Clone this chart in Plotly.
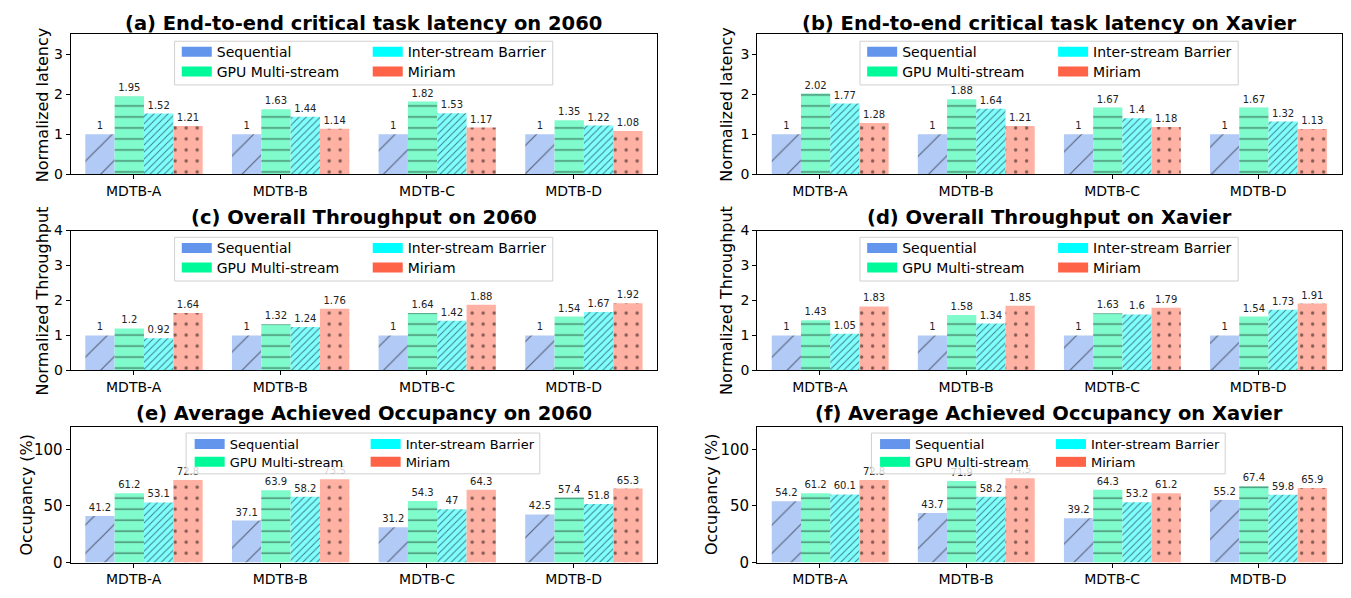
import plotly.graph_objects as go

# The page is 1351x598 and the browser body keeps its default 8px margin,
# so the figure is 16px smaller and reference pixel positions are converted
# with an 8px offset.
PAGE_W, PAGE_H = 1351, 598
BODY_MARGIN = 8
W, H = PAGE_W - 2 * BODY_MARGIN, PAGE_H - 2 * BODY_MARGIN

categories = ["MDTB-A", "MDTB-B", "MDTB-C", "MDTB-D"]
series_names = ["Sequential", "GPU Multi-stream", "Inter-stream Barrier", "Miriam"]

# (a) End-to-end critical task latency on 2060
lat_2060_seq = [1, 1, 1, 1]
lat_2060_gpu = [1.95, 1.63, 1.82, 1.35]
lat_2060_bar = [1.52, 1.44, 1.53, 1.22]
lat_2060_mir = [1.21, 1.14, 1.17, 1.08]
# (b) End-to-end critical task latency on Xavier
lat_xav_seq = [1, 1, 1, 1]
lat_xav_gpu = [2.02, 1.88, 1.67, 1.67]
lat_xav_bar = [1.77, 1.64, 1.4, 1.32]
lat_xav_mir = [1.28, 1.21, 1.18, 1.13]
# (c) Overall Throughput on 2060
thr_2060_seq = [1, 1, 1, 1]
thr_2060_gpu = [1.2, 1.32, 1.64, 1.54]
thr_2060_bar = [0.92, 1.24, 1.42, 1.67]
thr_2060_mir = [1.64, 1.76, 1.88, 1.92]
# (d) Overall Throughput on Xavier
thr_xav_seq = [1, 1, 1, 1]
thr_xav_gpu = [1.43, 1.58, 1.63, 1.54]
thr_xav_bar = [1.05, 1.34, 1.6, 1.73]
thr_xav_mir = [1.83, 1.85, 1.79, 1.91]
# (e) Average Achieved Occupancy on 2060
occ_2060_seq = [41.2, 37.1, 31.2, 42.5]
occ_2060_gpu = [61.2, 63.9, 54.3, 57.4]
occ_2060_bar = [53.1, 58.2, 47, 51.8]
occ_2060_mir = [72.8, 73.5, 64.3, 65.3]
# (f) Average Achieved Occupancy on Xavier
occ_xav_seq = [54.2, 43.7, 39.2, 55.2]
occ_xav_gpu = [61.2, 71.9, 64.3, 67.4]
occ_xav_bar = [60.1, 58.2, 53.2, 59.8]
occ_xav_mir = [72.8, 74.5, 61.2, 65.9]

panel_titles = [
    "(a) End-to-end critical task latency on 2060",
    "(b) End-to-end critical task latency on Xavier",
    "(c) Overall Throughput on 2060",
    "(d) Overall Throughput on Xavier",
    "(e) Average Achieved Occupancy on 2060",
    "(f) Average Achieved Occupancy on Xavier",
]
panel_ylabels = ["Normalized latency", "Normalized latency",
                 "Normalized Throughput", "Normalized Throughput",
                 "Occupancy (%)", "Occupancy (%)"]
panel_data = [
    [lat_2060_seq, lat_2060_gpu, lat_2060_bar, lat_2060_mir],
    [lat_xav_seq, lat_xav_gpu, lat_xav_bar, lat_xav_mir],
    [thr_2060_seq, thr_2060_gpu, thr_2060_bar, thr_2060_mir],
    [thr_xav_seq, thr_xav_gpu, thr_xav_bar, thr_xav_mir],
    [occ_2060_seq, occ_2060_gpu, occ_2060_bar, occ_2060_mir],
    [occ_xav_seq, occ_xav_gpu, occ_xav_bar, occ_xav_mir],
]
panel_ymax = [3.5, 3.5, 4, 4, 120, 120]
panel_yticks = [[0, 1, 2, 3], [0, 1, 2, 3], [0, 1, 2, 3, 4], [0, 1, 2, 3, 4],
                [0, 50, 100], [0, 50, 100]]

# styles
solid_colors = ["#6495ED", "#00FA9A", "#00FFFF", "#FF6347"]
light_colors = ["#B2CAF6", "#80FCCC", "#80FFFF", "#FFB1A3"]
patterns = [
    dict(shape="/", size=20, solidity=0.06),
    dict(shape="-", size=11, solidity=0.12),
    dict(shape="/", size=5, solidity=0.2),
    dict(shape=".", size=11, solidity=0.07),
]

FONT = "DejaVu Sans"

# layout geometry (page pixels)
col_x = [(70.7, 657.7), (757.7, 1342.5)]
row_y = [(27, 171), (229, 373), (431, 571)]
title_y = [15.5, 216, 417]
ylabel_x = [[42, 727], [42, 727], [27, 712]]


def px(x):
    return (x - BODY_MARGIN) / W


def py(y):
    return 1 - (y - BODY_MARGIN) / H


fig = go.Figure()
layout = dict(
    width=W, height=H,
    margin=dict(l=0, r=0, t=0, b=0),
    paper_bgcolor="white", plot_bgcolor="white",
    barmode="group", bargap=0.2, bargroupgap=0,
    font=dict(family=FONT, color="black"),
    showlegend=True,
)
annotations = []
shapes = []
group_pos = list(range(len(categories)))
tick_pos = [g - 0.07 for g in group_pos]

legend_count = 0
for k in range(6):
    r, c = divmod(k, 2)
    x0, x1 = col_x[c]
    t, b = row_y[r]
    ax = "" if k == 0 else str(k + 1)
    xa, ya = "x" + ax, "y" + ax
    layout["xaxis" + ax] = dict(
        domain=[px(x0), px(x1)], anchor=ya, range=[-0.5, 3.5],
        tickvals=tick_pos, ticktext=categories, ticks="outside", ticklen=4,
        tickcolor="black", showline=True, linecolor="black", linewidth=1,
        mirror=True, showgrid=False, zeroline=False,
        tickfont=dict(size=14, family=FONT, color="black"), fixedrange=True,
    )
    layout["yaxis" + ax] = dict(
        domain=[py(b), py(t)], anchor=xa, range=[0, panel_ymax[k]],
        tickvals=panel_yticks[k], ticks="outside", ticklen=4, tickcolor="black",
        showline=True, linecolor="black", linewidth=1, mirror=True,
        showgrid=False, zeroline=False,
        tickfont=dict(size=15 if r == 2 else 14, family=FONT, color="black"),
        fixedrange=True,
    )
    for s in range(4):
        fig.add_trace(go.Bar(
            x=group_pos, y=panel_data[k][s], xaxis=xa, yaxis=ya,
            name=series_names[s], showlegend=False,
            marker=dict(color=light_colors[s], line=dict(width=0),
                        pattern=dict(**patterns[s], fgcolor="black",
                                     fgopacity=0.5, bgcolor=light_colors[s],
                                     fillmode="replace")),
            text=[str(v) for v in panel_data[k][s]], textposition="outside",
            textfont=dict(size=10, family=FONT, color="#222222"),
            constraintext="none", cliponaxis=False, hoverinfo="skip",
        ))
    # panel title
    cx = (x0 + x1) / 2
    annotations.append(dict(
        text="<b>" + panel_titles[k] + "</b>", x=px(cx), y=py(title_y[r]),
        xref="paper", yref="paper", xanchor="center", yanchor="middle",
        showarrow=False, font=dict(size=19.5, family=FONT, color="black"),
    ))
    # y-axis label
    annotations.append(dict(
        text=panel_ylabels[k], x=px(ylabel_x[r][c]), y=py((t + b) / 2),
        xref="paper", yref="paper", xanchor="center", yanchor="middle",
        textangle=-90, showarrow=False,
        font=dict(size=16, family=FONT, color="black"),
    ))
    # legend frame + two-column entries
    if r < 2:
        box = (cx - 189.5, t + 7, cx + 189, t + 52)
        rows_c = [t + 18.3, t + 38.5]
        cols_l = [cx - 185.3, cx + 5.8]
        lsize = 14
    else:
        box = (cx - 178, t + 6.6, cx + 176, t + 48.6)
        rows_c = [t + 18, t + 36.3]
        cols_l = [cx - 172.4, cx + 3.7]
        lsize = 13
    shapes.append(dict(
        type="rect", xref="paper", yref="paper",
        x0=px(box[0]), x1=px(box[2]), y0=py(box[3]), y1=py(box[1]),
        line=dict(color="#d0d0d0", width=1), fillcolor="rgba(255,255,255,0.8)",
        layer="above",
    ))
    order = [(0, 0), (1, 0), (0, 1), (1, 1)]  # (row, col) per series
    for s in range(4):
        rr, cc = order[s]
        legend_count += 1
        lname = "legend" if legend_count == 1 else "legend%d" % legend_count
        fig.add_trace(go.Scatter(
            x=[None], y=[None], xaxis=xa, yaxis=ya, mode="lines",
            name=series_names[s], legend=lname, showlegend=True,
            line=dict(color=solid_colors[s], width=10), hoverinfo="skip",
        ))
        layout[lname] = dict(
            x=px(cols_l[cc] - 2), y=py(rows_c[rr]), xref="paper", yref="paper",
            xanchor="left", yanchor="middle", bgcolor="rgba(0,0,0,0)",
            borderwidth=0, font=dict(size=lsize, family=FONT, color="black"),
            itemclick=False, itemdoubleclick=False,
        )

layout["annotations"] = annotations
layout["shapes"] = shapes
fig.update_layout(**layout)
fig.write_html("out.html", config={"displayModeBar": False, "staticPlot": True})
